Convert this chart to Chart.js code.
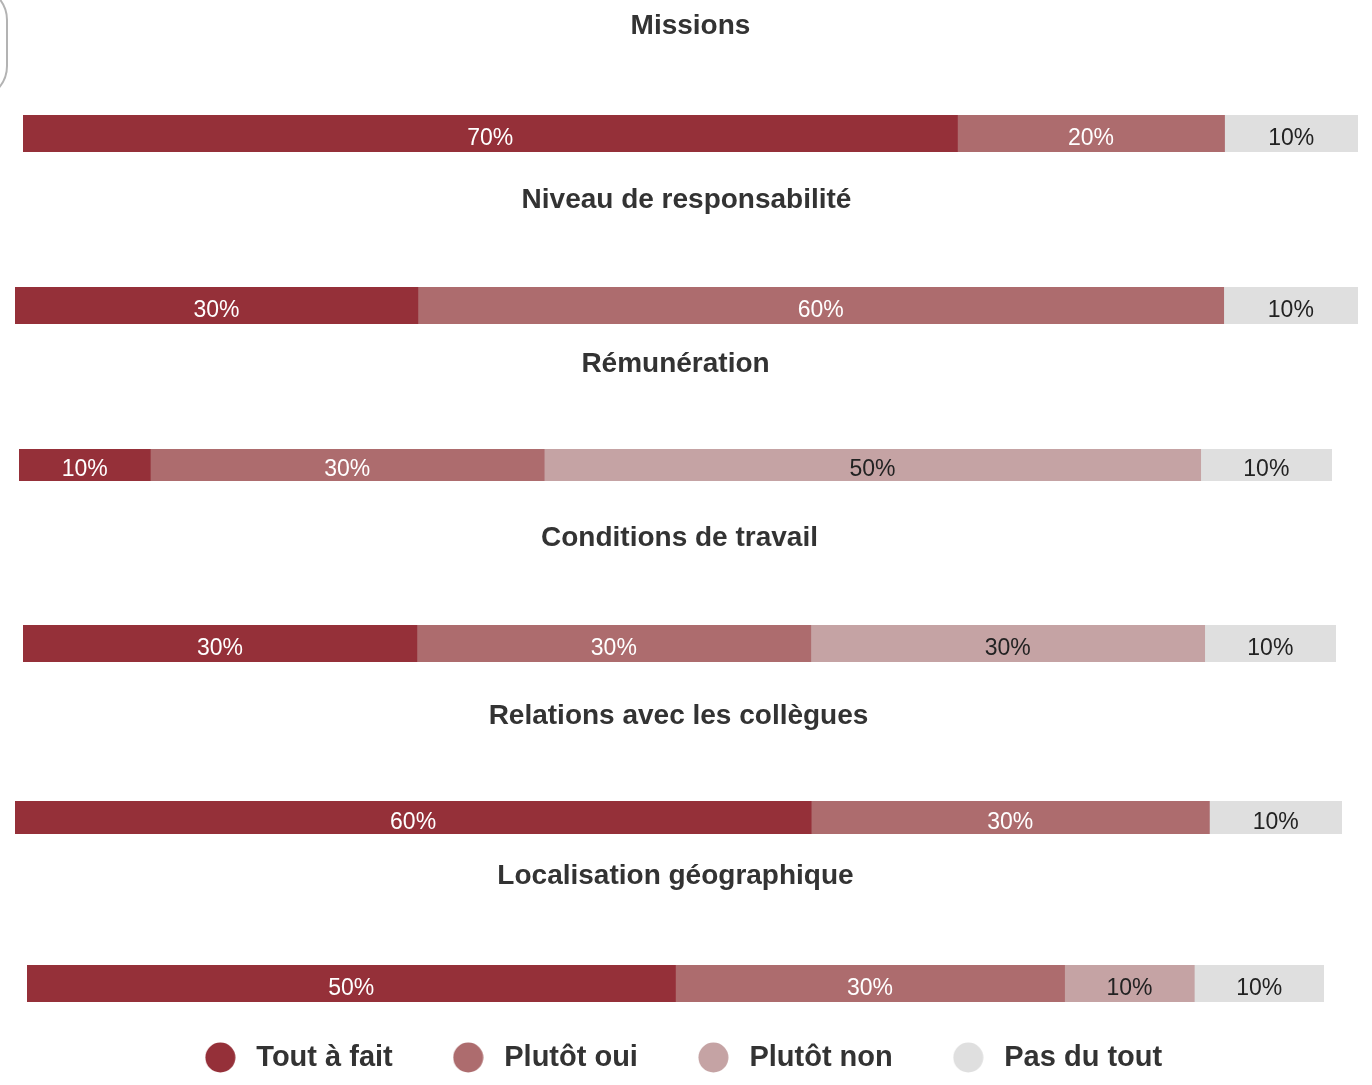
<!DOCTYPE html>
<html>
<head>
<meta charset="utf-8">
<script src="https://cdn.jsdelivr.net/npm/chart.js@4.4.1/dist/chart.umd.min.js"></script>
<style>
  html, body { margin: 0; padding: 0; background: #ffffff; overflow: hidden; }
  #wrap { position: relative; width: 1372px; height: 1085px; overflow: hidden; background: #fff; }
  #wrap canvas { position: absolute; }
  #arc { position: absolute; left: -60px; top: -14px; width: 64px; height: 110px;
         border: 2px solid #b3b3b3; border-radius: 45px; }
</style>
</head>
<body>
<div id="wrap"><div id="arc"></div></div>
<script>
// ---- Data ----
const categories = ["Missions", "Niveau de responsabilité", "Rémunération",
                    "Conditions de travail", "Relations avec les collègues", "Localisation géographique"];
const seriesNames = ["Tout à fait", "Plutôt oui", "Plutôt non", "Pas du tout"];
const toutAFait = [70, 30, 10, 30, 60, 50];
const plutotOui = [20, 60, 30, 30, 30, 30];
const plutotNon = [0, 0, 50, 30, 0, 10];
const pasDuTout = [10, 10, 10, 10, 10, 10];

// ---- Styles / layout ----
const seriesColors = ["#953039", "#AD6C6E", "#C5A3A4", "#DFDFDF"];
const labelColors = ["#ffffff", "#ffffff", "#222222", "#222222"];
// per panel: left, right, title centre y, bar top, bar bottom
const panelLayout = [
  [23, 1358, 26, 115, 152],
  [15, 1358, 200, 287, 324],
  [19, 1332, 364, 449, 481],
  [23, 1336, 538, 625, 662],
  [15, 1342, 716, 801, 834],
  [27, 1324, 876, 965, 1002]
];
const FONT = "'Liberation Sans', Arial, Helvetica, sans-serif";
const TITLE_SIZE = 28;
const TITLE_PAD_TOP = 4;

const seriesValues = [toutAFait, plutotOui, plutotNon, pasDuTout];

const valueLabels = {
  id: 'valueLabels',
  afterDatasetsDraw(chart) {
    const ctx = chart.ctx;
    ctx.save();
    ctx.font = "23px " + FONT;
    ctx.textAlign = 'center';
    ctx.textBaseline = 'middle';
    chart.data.datasets.forEach((ds, di) => {
      const meta = chart.getDatasetMeta(di);
      meta.data.forEach((el, i) => {
        const v = ds.data[i];
        if (!v) return;
        const p = el.getCenterPoint();
        ctx.fillStyle = labelColors[di];
        ctx.fillText(v + '%', p.x, p.y + 5);
      });
    });
    ctx.restore();
  }
};

const wrap = document.getElementById('wrap');

categories.forEach((cat, ci) => {
  const [left, right, titleY, barTop, barBottom] = panelLayout[ci];
  const lineH = TITLE_SIZE * 1.2;
  const top = Math.round(titleY - TITLE_PAD_TOP - lineH / 2);
  const padBottom = barTop - top - TITLE_PAD_TOP - lineH;
  const canvas = document.createElement('canvas');
  const w = right - left, h = barBottom - top;
  canvas.width = w; canvas.height = h;
  canvas.style.left = left + 'px';
  canvas.style.top = top + 'px';
  canvas.style.width = w + 'px';
  canvas.style.height = h + 'px';
  wrap.appendChild(canvas);

  new Chart(canvas, {
    type: 'bar',
    data: {
      labels: [cat],
      datasets: seriesNames.map((name, si) => ({
        label: name,
        data: [seriesValues[si][ci]],
        backgroundColor: seriesColors[si],
        borderWidth: 0,
        barPercentage: 1,
        categoryPercentage: 1
      }))
    },
    options: {
      indexAxis: 'y',
      responsive: false,
      animation: false,
      devicePixelRatio: 1,
      layout: { padding: 0 },
      scales: {
        x: { stacked: true, min: 0, max: 100, display: false },
        y: { stacked: true, display: false }
      },
      plugins: {
        legend: { display: false },
        tooltip: { enabled: false },
        title: {
          display: true,
          text: cat,
          color: '#333333',
          font: { family: FONT, size: TITLE_SIZE, weight: 'bold' },
          padding: { top: TITLE_PAD_TOP, bottom: padBottom }
        }
      }
    },
    plugins: [valueLabels]
  });
});

// ---- Legend (separate chart holding only the legend) ----
function circleImage(color) {
  const c = document.createElement('canvas');
  c.width = 31; c.height = 31;
  const x = c.getContext('2d');
  x.fillStyle = color;
  x.beginPath();
  x.arc(15.5, 15.5, 15, 0, Math.PI * 2);
  x.fill();
  return c;
}
const legendImages = seriesColors.map(circleImage);
const legendCanvas = document.createElement('canvas');
const LEG_PAD = 54, LEG_FONT = 29, LEG_Y = 1057;
const legTop = Math.round(LEG_Y - LEG_PAD - LEG_FONT / 2);
const LEG_W = 1361;
legendCanvas.width = LEG_W; legendCanvas.height = 320;
legendCanvas.style.left = '0px';
legendCanvas.style.top = legTop + 'px';
legendCanvas.style.width = LEG_W + 'px';
legendCanvas.style.height = '320px';
wrap.appendChild(legendCanvas);

new Chart(legendCanvas, {
  type: 'bar',
  data: {
    labels: [''],
    datasets: seriesNames.map((name, si) => ({
      label: name, data: [], backgroundColor: seriesColors[si]
    }))
  },
  options: {
    responsive: false,
    animation: false,
    devicePixelRatio: 1,
    layout: { padding: 0 },
    scales: { x: { display: false }, y: { display: false } },
    plugins: {
      tooltip: { enabled: false },
      title: { display: false },
      legend: {
        display: true,
        position: 'top',
        labels: {
          usePointStyle: true,
          pointStyleWidth: 43,
          boxHeight: LEG_FONT,
          padding: LEG_PAD,
          color: '#333333',
          font: { family: FONT, size: LEG_FONT, weight: 'bold' },
          generateLabels: (chart) => chart.data.datasets.map((ds, i) => ({
            text: ds.label,
            fillStyle: seriesColors[i],
            strokeStyle: seriesColors[i],
            lineWidth: 0,
            pointStyle: legendImages[i],
            hidden: false,
            datasetIndex: i,
            fontColor: '#333333'
          }))
        }
      }
    }
  }
});
</script>
</body>
</html>
